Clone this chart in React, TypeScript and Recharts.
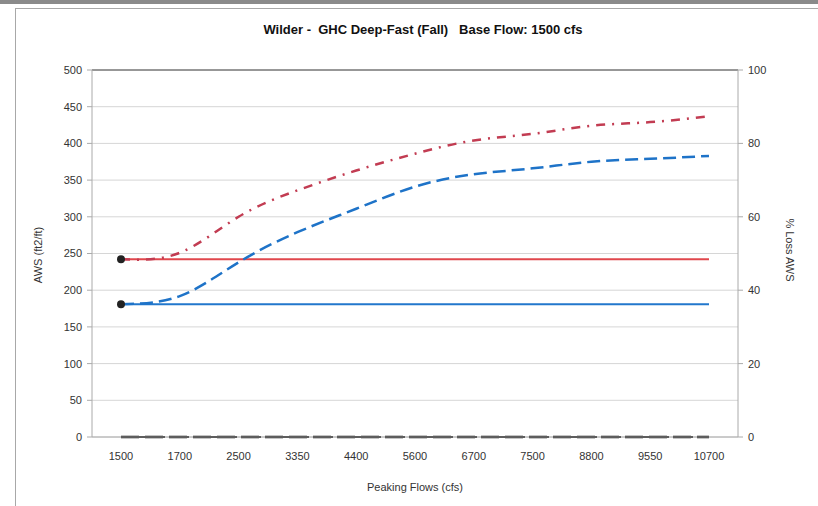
import React from 'react';
import { LineChart, Line, XAxis, YAxis, CartesianGrid, ReferenceLine } from 'recharts';

// peaking flow categories (cfs)
const flows = ['1500', '1700', '2500', '3350', '4400', '5600', '6700', '7500', '8800', '9550', '10700'];

// AWS (ft2/ft), base flow levels
const awsBaseRed = [242, 242, 242, 242, 242, 242, 242, 242, 242, 242, 242];
const awsBaseBlue = [181, 181, 181, 181, 181, 181, 181, 181, 181, 181, 181];

// AWS at peaking flows
const awsPeakRed = [242, 251, 300, 336, 363, 386, 404, 413, 424, 429, 437];
const awsPeakBlue = [181, 192, 238, 279, 311, 341, 358, 366, 375, 379, 383];

// % loss AWS
const lossA = [0, 0, 0, 0, 0, 0, 0, 0, 0, 0, 0];
const lossB = [0, 0, 0, 0, 0, 0, 0, 0, 0, 0, 0];

const leftTicks = [0, 50, 100, 150, 200, 250, 300, 350, 400, 450, 500];
const rightTicks = [0, 20, 40, 60, 80, 100];

const data = flows.map((f, i) => ({
  flow: f,
  baseRed: awsBaseRed[i],
  baseBlue: awsBaseBlue[i],
  peakRed: awsPeakRed[i],
  peakBlue: awsPeakBlue[i],
  lossA: lossA[i],
  lossB: lossB[i],
}));

const font = '"Liberation Sans", Arial, sans-serif';
const tickStyle = { fill: '#333', fontSize: 11, fontFamily: font };

const firstDot = (props: any) => {
  const { cx, cy, index } = props;
  if (index !== 0) return <g key={'d' + index} />;
  return <circle key={'d' + index} cx={cx} cy={cy} r={4} fill="#222" />;
};

export default function App() {
  return (
    <div style={{ position: 'absolute', left: 0, top: 0, width: 818, height: 506, background: '#fff', overflow: 'hidden', fontFamily: font }}>
      <div style={{ position: 'absolute', left: 0, top: 0, width: 818, height: 4, background: '#8a8a8a' }} />
      <div style={{ position: 'absolute', left: 15, top: 8, width: 840, height: 540, border: '1px solid #a8a8a8', boxSizing: 'border-box' }} />

      <div style={{ position: 'absolute', left: 0, top: 0 }}>
        <LineChart width={818} height={506} data={data} margin={{ top: 70, right: 0, bottom: 0, left: 0 }}>
          <CartesianGrid yAxisId="left" vertical={false} stroke="#d6d6d6" />
          <XAxis
            dataKey="flow"
            padding={{ left: 29, right: 29 }}
            axisLine={{ stroke: '#aaa' }}
            tickLine={false}
            tickMargin={9}
            tick={tickStyle}
            height={69}
            interval={0}
          />
          <YAxis
            yAxisId="left"
            domain={[0, 500]}
            ticks={leftTicks}
            width={92}
            axisLine={{ stroke: '#aaa' }}
            tickLine={{ stroke: '#aaa' }}
            tickSize={5}
            tickMargin={5}
            tick={tickStyle}
          />
          <YAxis
            yAxisId="right"
            orientation="right"
            domain={[0, 100]}
            ticks={rightTicks}
            width={80}
            axisLine={{ stroke: '#aaa' }}
            tickLine={{ stroke: '#aaa' }}
            tickSize={5}
            tickMargin={5}
            tick={tickStyle}
          />
          <ReferenceLine yAxisId="left" y={500} stroke="#444" />
          <Line yAxisId="right" dataKey="lossB" stroke="#111" strokeWidth={2} strokeDasharray="8 4 2 4" dot={false} isAnimationActive={false} />
          <Line yAxisId="right" dataKey="lossA" stroke="#111" strokeWidth={2.5} strokeDasharray="18 6" dot={false} isAnimationActive={false} />
          <Line yAxisId="left" dataKey="baseRed" stroke="#e0474d" strokeWidth={2} dot={firstDot} isAnimationActive={false} />
          <Line yAxisId="left" dataKey="baseBlue" stroke="#2277cc" strokeWidth={2} dot={firstDot} isAnimationActive={false} />
          <Line yAxisId="left" type="natural" dataKey="peakRed" stroke="#c23c52" strokeWidth={2.5} strokeDasharray="9 7 2 7" dot={false} isAnimationActive={false} />
          <Line yAxisId="left" type="natural" dataKey="peakBlue" stroke="#1e73c8" strokeWidth={2.5} strokeDasharray="13 6" dot={false} isAnimationActive={false} />
        </LineChart>
      </div>

      <div style={{ position: 'absolute', left: 0, width: 846, top: 22, textAlign: 'center', fontSize: 13, fontWeight: 'bold', color: '#111', whiteSpace: 'pre' }}>
        {'Wilder -  GHC Deep-Fast (Fall)   Base Flow: 1500 cfs'}
      </div>
      <div style={{ position: 'absolute', left: 38, top: 255, transform: 'translate(-50%, -50%) rotate(-90deg)', fontSize: 11, color: '#333', whiteSpace: 'nowrap' }}>
        AWS (ft2/ft)
      </div>
      <div style={{ position: 'absolute', left: 790, top: 250, transform: 'translate(-50%, -50%) rotate(90deg)', fontSize: 11, color: '#333', whiteSpace: 'nowrap' }}>
        % Loss AWS
      </div>
      <div style={{ position: 'absolute', left: 0, width: 830, top: 481, textAlign: 'center', fontSize: 11, color: '#333' }}>
        Peaking Flows (cfs)
      </div>
    </div>
  );
}
